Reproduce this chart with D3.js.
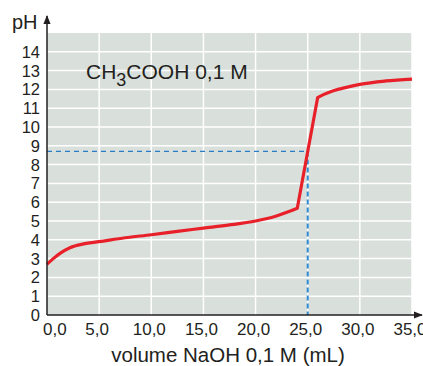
<!DOCTYPE html>
<html>
<head>
<meta charset="utf-8">
<script src="https://cdn.jsdelivr.net/npm/d3@7"></script>
<style>
  body { margin: 0; background: #fff; }
  text { font-family: "Liberation Sans", Arial, sans-serif; fill: #231f20; }
</style>
</head>
<body>
<div id="chart"></div>
<script>
// titration curve
const volumes = [0, 0.6, 1.25, 2.2, 3.5, 5, 7.5, 10, 12.5, 15, 17.5, 20, 21, 22, 23.2, 24, 25.95, 26.5, 27.2, 28.5, 30, 32.5, 35]
const phValues = [2.7, 3.0, 3.28, 3.58, 3.78, 3.9, 4.11, 4.27, 4.45, 4.62, 4.79, 5.0, 5.12, 5.27, 5.5, 5.68, 11.56, 11.72, 11.88, 12.08, 12.27, 12.45, 12.55]
const xTicks = [0, 5, 10, 15, 20, 25, 30, 35]
const yTicks = [0, 1, 2, 3, 4, 5, 6, 7, 8, 9, 10, 11, 12, 13, 14]
const equivalence = { volume: 25, ph: 8.7 }

const width = 423, height = 366
const x = d3.scaleLinear().domain([0, 35]).range([47, 412])
const y = d3.scaleLinear().domain([0, 15]).range([315, 33])

const svg = d3.select("#chart").append("svg")
  .attr("width", width)
  .attr("height", height)

svg.append("rect")
  .attr("x", x(0)).attr("y", y(15))
  .attr("width", x(35) - x(0)).attr("height", y(0) - y(15))
  .attr("fill", "#d9dfdb")

// white grid
svg.append("g").selectAll("line.h")
  .data(yTicks.slice(1))
  .enter().append("line")
    .attr("x1", x(0)).attr("x2", x(35))
    .attr("y1", d => y(d)).attr("y2", d => y(d))
    .attr("stroke", "#fff").attr("stroke-width", 1.5)
svg.append("g").selectAll("line.v")
  .data(xTicks.slice(1))
  .enter().append("line")
    .attr("x1", d => x(d)).attr("x2", d => x(d))
    .attr("y1", y(15)).attr("y2", y(0))
    .attr("stroke", "#fff").attr("stroke-width", 1.5)

// dashed guide to the equivalence point
svg.append("path")
  .attr("d", d3.line()([[x(0), y(equivalence.ph)], [x(equivalence.volume), y(equivalence.ph)]]))
  .attr("fill", "none")
  .attr("stroke", "#2a7cc4")
  .attr("stroke-width", 1.2)
  .attr("stroke-dasharray", "5,4")
svg.append("path")
  .attr("d", d3.line()([[x(equivalence.volume), y(equivalence.ph)], [x(equivalence.volume), y(0)]]))
  .attr("fill", "none")
  .attr("stroke", "#2f8ad0")
  .attr("stroke-width", 2)
  .attr("stroke-dasharray", "5,3")

// smooth before and after the jump, straight across it
const pts = volumes.map((v, i) => [x(v), y(phValues[i])])
const jump = volumes.indexOf(24)
const smooth = d3.line().curve(d3.curveMonotoneX)
const d = smooth(pts.slice(0, jump + 1)) + smooth(pts.slice(jump + 1)).replace(/^M/, "L")
svg.append("path")
  .attr("d", d)
  .attr("fill", "none")
  .attr("stroke", "#e8202a")
  .attr("stroke-width", 3.2)

// axes with arrows
svg.append("defs").append("marker")
  .attr("id", "arrow")
  .attr("viewBox", "0 0 10 10")
  .attr("refX", 9).attr("refY", 5)
  .attr("markerWidth", 6).attr("markerHeight", 6)
  .attr("orient", "auto")
  .append("path").attr("d", "M0,1 L10,5 L0,9 Z").attr("fill", "#231f20")

svg.append("line")
  .attr("x1", x(0)).attr("x2", x(0))
  .attr("y1", y(0)).attr("y2", 16)
  .attr("stroke", "#231f20").attr("stroke-width", 1.5)
  .attr("marker-end", "url(#arrow)")
svg.append("line")
  .attr("x1", x(0)).attr("x2", 422)
  .attr("y1", y(0)).attr("y2", y(0))
  .attr("stroke", "#231f20").attr("stroke-width", 1.5)
  .attr("marker-end", "url(#arrow)")

svg.append("g").selectAll("text")
  .data(yTicks)
  .enter().append("text")
    .attr("x", 40)
    .attr("y", d => y(d) + 6)
    .attr("text-anchor", "end")
    .attr("font-size", 16.5)
    .text(d => d)

svg.append("g").selectAll("text")
  .data(xTicks)
  .enter().append("text")
    .attr("x", d => d === 0 ? 43 : x(d) - 2)
    .attr("y", 335)
    .attr("text-anchor", d => d === 0 ? "start" : "middle")
    .attr("font-size", 17)
    .text(d => d3.format(".1f")(d).replace(".", ","))

svg.append("text")
  .attr("x", 12).attr("y", 29)
  .attr("font-size", 20)
  .text("pH")

svg.append("text")
  .attr("x", 228).attr("y", 362)
  .attr("text-anchor", "middle")
  .attr("font-size", 20.5)
  .text("volume NaOH 0,1 M (mL)")

const label = svg.append("text")
  .attr("x", 86).attr("y", 79)
  .attr("font-size", 21)
label.append("tspan").text("CH")
label.append("tspan").attr("dy", 7).attr("font-size", 18).text("3")
label.append("tspan").attr("dy", -7).text("COOH 0,1 M")
</script>
</body>
</html>
